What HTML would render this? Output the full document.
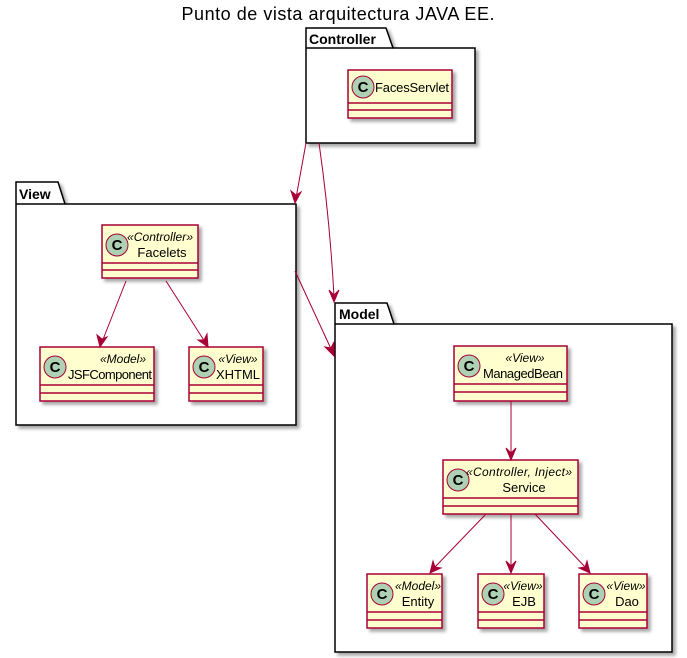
<!DOCTYPE html>
<html><head><meta charset="utf-8"><style>
html,body{margin:0;padding:0;background:#fff;}
svg{display:block;font-family:"Liberation Sans","DejaVu Sans",sans-serif;}
.cls{fill:#FEFECE;stroke:#A80036;stroke-width:1.5;filter:url(#sh);}
.sep{stroke:#A80036;stroke-width:1.5;}
.pk{fill:#fff;stroke:#000;stroke-width:1.5;filter:url(#sh);}
.ci{fill:#ADD1B2;stroke:#A80036;stroke-width:1;}
.cl{font-size:15px;font-weight:bold;text-anchor:middle;}
.st{font-size:12px;font-style:italic;text-anchor:middle;}
.nm{font-size:13px;text-anchor:middle;}
.pt{font-size:14px;font-weight:bold;}
.ar{stroke:#A80036;stroke-width:1;fill:none;}
.ah{fill:#A80036;stroke:#A80036;}
</style></head><body>
<svg width="687" height="658" viewBox="0 0 687 658">
<defs><filter id="sh" x="-10%" y="-10%" width="130%" height="130%"><feDropShadow dx="3" dy="3" stdDeviation="1.5" flood-color="#000" flood-opacity="0.35"/></filter></defs>
<text x="338" y="20" font-size="18" text-anchor="middle" textLength="313">Punto de vista arquitectura JAVA EE.</text>

<path class="pk" d="M306,48 L306,28 L386,28 L393,48 L475,48 L475,143 L306,143 Z"/>
<line x1="306" y1="48" x2="393" y2="48" stroke="#000" stroke-width="1.5"/>
<text class="pt" x="309" y="44">Controller</text>
<rect class="cls" x="348" y="70" width="104" height="48"/>
<line class="sep" x1="348" y1="103" x2="452" y2="103"/><line class="sep" x1="348" y1="110" x2="452" y2="110"/>
<circle class="ci" cx="363" cy="87" r="11"/><text class="cl" x="363" y="92">C</text>
<text class="nm" x="412" y="92" textLength="74">FacesServlet</text>

<path class="pk" d="M16,204 L16,182 L58,182 L65,204 L296,204 L296,425 L16,425 Z"/>
<line x1="16" y1="204" x2="65" y2="204" stroke="#000" stroke-width="1.5"/>
<text class="pt" x="19" y="199">View</text>

<rect class="cls" x="102" y="225" width="96" height="53"/>
<line class="sep" x1="102" y1="263" x2="198" y2="263"/><line class="sep" x1="102" y1="270" x2="198" y2="270"/>
<circle class="ci" cx="117" cy="245" r="11"/><text class="cl" x="117" y="250">C</text>
<text class="st" x="160" y="241" textLength="66">«Controller»</text><text class="nm" x="162" y="257">Facelets</text>

<rect class="cls" x="40" y="347" width="114" height="54"/>
<line class="sep" x1="40" y1="385" x2="154" y2="385"/><line class="sep" x1="40" y1="393" x2="154" y2="393"/>
<circle class="ci" cx="55" cy="367" r="11"/><text class="cl" x="55" y="372">C</text>
<text class="st" x="123" y="363">«Model»</text><text class="nm" x="110" y="379" textLength="84">JSFComponent</text>

<rect class="cls" x="189" y="347" width="74" height="54"/>
<line class="sep" x1="189" y1="385" x2="263" y2="385"/><line class="sep" x1="189" y1="393" x2="263" y2="393"/>
<circle class="ci" cx="204" cy="367" r="11"/><text class="cl" x="204" y="372">C</text>
<text class="st" x="238" y="363">«View»</text><text class="nm" x="238" y="379">XHTML</text>

<path class="ar" d="M126,281 L102,342"/><path class="ah" d="M100,347 L97,335 L102,339 L107,337 Z"/>
<path class="ar" d="M166,281 L205,342"/><path class="ah" d="M208,347 L198,340 L204,340 L207,334 Z"/>

<path class="pk" d="M335,324 L335,303 L387,303 L394,324 L672,324 L672,652 L335,652 Z"/>
<line x1="335" y1="324" x2="394" y2="324" stroke="#000" stroke-width="1.5"/>
<text class="pt" x="339" y="319">Model</text>

<rect class="cls" x="454" y="346" width="113" height="55"/>
<line class="sep" x1="454" y1="384" x2="567" y2="384"/><line class="sep" x1="454" y1="392" x2="567" y2="392"/>
<circle class="ci" cx="469" cy="366" r="11"/><text class="cl" x="469" y="371">C</text>
<text class="st" x="525" y="362">«View»</text><text class="nm" x="523" y="378" textLength="80">ManagedBean</text>

<rect class="cls" x="443" y="460" width="135" height="54"/>
<line class="sep" x1="443" y1="498" x2="578" y2="498"/><line class="sep" x1="443" y1="506" x2="578" y2="506"/>
<circle class="ci" cx="458" cy="480" r="11"/><text class="cl" x="458" y="485">C</text>
<text class="st" x="519" y="476" textLength="106">«Controller, Inject»</text><text class="nm" x="524" y="492">Service</text>

<rect class="cls" x="367" y="574" width="75" height="54"/>
<line class="sep" x1="367" y1="612" x2="442" y2="612"/><line class="sep" x1="367" y1="620" x2="442" y2="620"/>
<circle class="ci" cx="382" cy="594" r="11"/><text class="cl" x="382" y="599">C</text>
<text class="st" x="418" y="590">«Model»</text><text class="nm" x="418" y="606">Entity</text>

<rect class="cls" x="478" y="574" width="66" height="54"/>
<line class="sep" x1="478" y1="612" x2="544" y2="612"/><line class="sep" x1="478" y1="620" x2="544" y2="620"/>
<circle class="ci" cx="493" cy="594" r="11"/><text class="cl" x="493" y="599">C</text>
<text class="st" x="523" y="590">«View»</text><text class="nm" x="524" y="606">EJB</text>

<rect class="cls" x="579" y="574" width="68" height="54"/>
<line class="sep" x1="579" y1="612" x2="647" y2="612"/><line class="sep" x1="579" y1="620" x2="647" y2="620"/>
<circle class="ci" cx="594" cy="594" r="11"/><text class="cl" x="594" y="599">C</text>
<text class="st" x="626" y="590">«View»</text><text class="nm" x="627" y="606">Dao</text>

<path class="ar" d="M511,401 L511,455"/><path class="ah" d="M511,460 L506,448 L511,453 L516,448 Z"/>
<path class="ar" d="M486,514 L434,568"/><path class="ah" d="M430,573 L433,561 L435,567 L441,568 Z"/>
<path class="ar" d="M511,514 L511,568"/><path class="ah" d="M511,573 L506,561 L511,566 L516,561 Z"/>
<path class="ar" d="M535,514 L586,568"/><path class="ah" d="M590,573 L579,568 L585,567 L587,561 Z"/>

<path class="ar" d="M306,143 L296,198"/><path class="ah" d="M295,203 L291,191 L296,195 L301,192 Z"/>
<path class="ar" d="M319,143 Q330,220 334,297"/><path class="ah" d="M334,302 L329,290 L334,295 L339,290 Z"/>
<path class="ar" d="M295,271 L332,351"/><path class="ah" d="M334,356 L325,347 L331,348 L334,342 Z"/>
</svg>
</body></html>
